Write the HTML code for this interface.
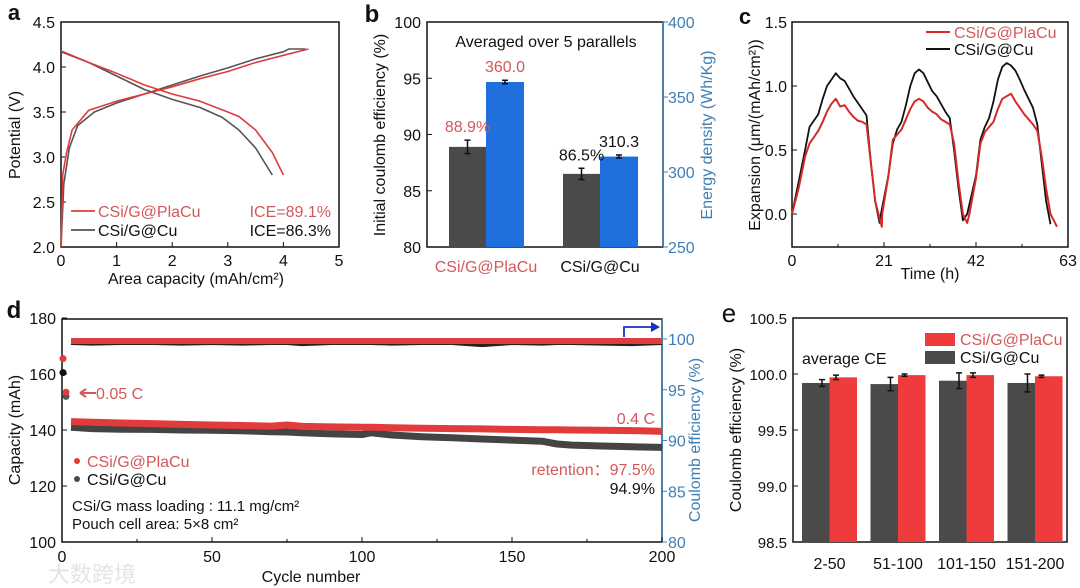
<!DOCTYPE html>
<html><head><meta charset="utf-8"><style>
html,body{margin:0;padding:0;background:#fff;}
svg{display:block;font-family:"Liberation Sans",Arial,sans-serif;}
</style></head><body>
<svg id="fig" width="1080" height="588" viewBox="0 0 1080 588">
<g id="layer"></g>
</svg>
<script>
// ---------- DATA ----------
// Panel a (x: capacity, y: potential)
const aRedChX=[0,0.03,0.1,0.2,0.5,1,1.5,2,2.5,3,3.5,4,4.45];
const aRedChY=[2.0,2.8,3.05,3.3,3.52,3.62,3.7,3.78,3.87,3.95,4.05,4.13,4.2];
const aBlkChX=[0,0.05,0.15,0.3,0.6,1,1.5,2,2.5,3,3.5,4,4.1,4.4];
const aBlkChY=[2.0,2.7,3.1,3.35,3.5,3.6,3.7,3.8,3.9,3.99,4.09,4.17,4.2,4.2];
const aRedDisX=[0,0.5,1,1.5,2,2.5,3,3.2,3.5,3.8,4.0];
const aRedDisY=[4.18,4.05,3.93,3.8,3.7,3.62,3.5,3.45,3.3,3.05,2.8];
const aBlkDisX=[0,0.5,1,1.5,2,2.5,2.9,3.2,3.5,3.8];
const aBlkDisY=[4.17,4.05,3.9,3.75,3.64,3.55,3.44,3.3,3.1,2.8];
const aXTicks=[0,1,2,3,4,5];
const aYTicks=[2.0,2.5,3.0,3.5,4.0,4.5];
// Panel b
const bCats=["CSi/G@PlaCu","CSi/G@Cu"];
const bICE=[88.9,86.5];
const bICEErr=[0.6,0.5];
const bEnergy=[360.0,310.3];
const bEnergyErr=[1.2,1.0];
const bICELabels=["88.9%","86.5%"];
const bEnergyLabels=["360.0","310.3"];
const bYTicks=[80,85,90,95,100];
const bY2Ticks=[250,300,350,400];
// Panel c
const cBlkT=[0,1.5,3,4,5,6,7,8,9,10,11,12,13,14,15,16,17,18,19,20,20.3,22,23,24,25,26,27,28,29,30,31,32,33,34,35,36,37,38,39,40,42,43,44,45,46,47,48,49,50,51,52,53,54,55,56,57,58,59];
const cBlkV=[0,0.25,0.5,0.68,0.73,0.78,0.9,1.0,1.05,1.1,1.06,1.04,0.98,0.92,0.87,0.82,0.77,0.4,0.1,-0.07,0,0.3,0.55,0.66,0.72,0.85,1.0,1.1,1.13,1.1,1.03,0.96,0.92,0.86,0.8,0.75,0.5,0.2,-0.05,0,0.3,0.58,0.68,0.75,0.88,1.05,1.15,1.18,1.16,1.12,1.05,0.97,0.9,0.83,0.7,0.4,0.1,-0.08];
const cRedT=[0,1.5,3,4,5,6,7,8,9,10,11,12,13,14,15,16,17,18,19,20.5,20.6,22,23,24,25,26,27,28,29,30,31,32,33,34,35,36,37,38,39,40,40.5,42,43,44,45,46,47,48,49,50,51,52,53,54,55,56,57,58,59,60.5];
const cRedV=[0,0.2,0.45,0.55,0.6,0.65,0.72,0.8,0.86,0.9,0.84,0.85,0.8,0.76,0.73,0.72,0.7,0.4,0.1,-0.1,0,0.3,0.58,0.62,0.66,0.74,0.82,0.88,0.9,0.88,0.83,0.8,0.78,0.74,0.72,0.7,0.55,0.25,0,-0.07,0,0.28,0.55,0.64,0.68,0.72,0.82,0.9,0.92,0.94,0.88,0.83,0.78,0.74,0.7,0.65,0.45,0.2,0,-0.1];
const cXTicks=[0,21,42,63];
const cYTicks=[0.0,0.5,1.0,1.5];
// Panel d
const dCycles=[3,10,20,30,40,50,60,70,75,80,90,100,103,110,120,130,140,150,160,165,170,180,190,200];
const dRedCap=[143,142.8,142.5,142.3,142,141.8,141.6,141.4,141.8,141.3,141.1,141,141,140.8,140.6,140.5,140.4,140.2,140.1,140.1,140,139.9,139.8,139.5];
const dBlkCap=[141,140.5,140.3,140.2,140,139.9,139.7,139.4,139.3,139,138.6,138.4,139,138.2,137.6,137.2,136.8,136.4,136,135,134.6,134.3,134,133.8];
const dRedCE=[99.8,99.8,99.8,99.8,99.8,99.8,99.8,99.8,99.8,99.8,99.8,99.8,99.8,99.8,99.8,99.8,99.8,99.8,99.8,99.8,99.8,99.8,99.8,99.8];
const dBlkCE=[99.7,99.65,99.7,99.7,99.65,99.7,99.65,99.7,99.7,99.6,99.7,99.7,99.7,99.65,99.7,99.7,99.5,99.7,99.65,99.7,99.7,99.65,99.6,99.7];
const dInitCycles=[1,2];
const dRedInit=[165.5,153.5];
const dBlkInit=[160.5,152];
const dXTicks=[0,50,100,150,200];
const dYTicks=[100,120,140,160,180];
const dY2Ticks=[80,85,90,95,100];
// Panel e
const eCats=["2-50","51-100","101-150","151-200"];
const eBlk=[99.92,99.91,99.94,99.92];
const eBlkErr=[0.03,0.06,0.07,0.08];
const eRed=[99.97,99.99,99.99,99.98];
const eRedErr=[0.02,0.01,0.02,0.01];
const eYTicks=[98.5,99.0,99.5,100.0,100.5];

// ---------- HELPERS ----------
const NS="http://www.w3.org/2000/svg";
const L=document.getElementById('layer');
function mk(tag,attrs){const e=document.createElementNS(NS,tag);for(const k in attrs)e.setAttribute(k,attrs[k]);L.appendChild(e);return e;}
function lin(d0,d1,r0,r1){return v=>r0+(v-d0)*(r1-r0)/(d1-d0);}
function txt(s,x,y,opt){const e=mk('text',{x:x,y:y,'font-size':opt.fs||16,fill:opt.fill||'#111','text-anchor':opt.anchor||'middle'});if(opt.rot)e.setAttribute('transform','rotate(-90 '+x+' '+y+')');if(opt.bold)e.setAttribute('font-weight','bold');e.textContent=s;return e;}
function poly(xs,ys,fx,fy,col,w){let p=xs.map((v,i)=>fx(v).toFixed(1)+','+fy(ys[i]).toFixed(1)).join(' ');return mk('polyline',{points:p,fill:'none',stroke:col,'stroke-width':w,'stroke-linejoin':'round'});}
const RED='#e23b3b',RTXT='#d4585a',DARK='#4a4a4a',BLUE='#1f6fdc',ABLUE='#3f7fb4';

// ---------- PANEL A ----------
{const fx=lin(0,5,61,339),fy=lin(2,4.5,247,22);
let e=mk('rect',{x:61,y:22,width:278,height:225,fill:'none',stroke:'#111','stroke-width':1.5});

aXTicks.forEach(t=>{mk('line',{x1:fx(t),y1:247,x2:fx(t),y2:242,stroke:'#111'});let s=txt(String(t),fx(t),266,{});
});
aYTicks.forEach(t=>{mk('line',{x1:61,y1:fy(t),x2:66,y2:fy(t),stroke:'#111'});let s=txt(t.toFixed(1),55,fy(t)+6,{anchor:'end'});
});
e=poly(aBlkChX,aBlkChY,fx,fy,'#555',1.6);
e=poly(aBlkDisX,aBlkDisY,fx,fy,'#555',1.6);
e=poly(aRedChX,aRedChY,fx,fy,RED,1.6);
e=poly(aRedDisX,aRedDisY,fx,fy,RED,1.6);
e=txt('a',14,20,{fs:22,bold:true,anchor:'middle'});
e=txt('Potential (V)',20,135,{rot:true});
e=txt('Area capacity (mAh/cm²)',196,284,{});
mk('line',{x1:71,y1:211,x2:95,y2:211,stroke:RED,'stroke-width':1.8});
e=txt('CSi/G@PlaCu',98,217,{anchor:'start',fill:RTXT});
mk('line',{x1:71,y1:230,x2:95,y2:230,stroke:'#555','stroke-width':1.8});
e=txt('CSi/G@Cu',98,236,{anchor:'start'});
e=txt('ICE=89.1%',331,217,{anchor:'end',fill:RTXT});
e=txt('ICE=86.3%',331,236,{anchor:'end'});
}

// ---------- PANEL B ----------
{const fy=lin(80,100,247,22),fy2=lin(250,400,247,22);
let e=mk('rect',{x:427,y:22,width:236,height:225,fill:'none',stroke:'#111','stroke-width':1.5});

mk('line',{x1:663,y1:22,x2:663,y2:247,stroke:ABLUE,'stroke-width':1.5});
bYTicks.forEach(t=>{mk('line',{x1:427,y1:fy(t),x2:432,y2:fy(t),stroke:'#111'});let s=txt(String(t),421,fy(t)+6,{anchor:'end'});
});
bY2Ticks.forEach(t=>{mk('line',{x1:663,y1:fy2(t),x2:668,y2:fy2(t),stroke:ABLUE});let s=txt(String(t),668,fy2(t)+6,{anchor:'start',fill:ABLUE});
});
const gx=[449,563];
bCats.forEach((c,i)=>{
 let r=mk('rect',{x:gx[i],y:fy(bICE[i]),width:37,height:247-fy(bICE[i]),fill:DARK});
 
 let cx=gx[i]+18.5;
 mk('path',{d:`M${cx},${fy(bICE[i]+bICEErr[i])}V${fy(bICE[i]-bICEErr[i])}M${cx-3},${fy(bICE[i]+bICEErr[i])}h6M${cx-3},${fy(bICE[i]-bICEErr[i])}h6`,stroke:'#111','stroke-width':1.5,fill:'none'});
 r=mk('rect',{x:gx[i]+37,y:fy2(bEnergy[i]),width:38,height:247-fy2(bEnergy[i]),fill:BLUE});
 
 let bx=gx[i]+56;
 mk('path',{d:`M${bx},${fy2(bEnergy[i]+bEnergyErr[i])}V${fy2(bEnergy[i]-bEnergyErr[i])}M${bx-3},${fy2(bEnergy[i]+bEnergyErr[i])}h6M${bx-3},${fy2(bEnergy[i]-bEnergyErr[i])}h6`,stroke:'#111','stroke-width':1.5,fill:'none'});
 let col=i===0?RTXT:'#111';
 let t=txt(bICELabels[i],cx,fy(bICE[i]+bICEErr[i])-8,{fill:col});
 t=txt(bEnergyLabels[i],bx,fy2(bEnergy[i]+bEnergyErr[i])-8,{fill:col});
 t=txt(c,gx[i]+37,272,{fill:col});
});
e=txt('b',372,22,{fs:24,bold:true});
e=txt('Averaged over 5  parallels',546,47,{});
e=txt('Initial coulomb efficiency (%)',385,135,{rot:true});
e=txt('Energy density  (Wh/Kg)',712,135,{rot:true,fill:ABLUE});
}

// ---------- PANEL C ----------
{const fx=lin(0,63,792,1068),fy=lin(0,1.5,214,22);
let e=mk('rect',{x:792,y:22,width:276,height:225,fill:'none',stroke:'#111','stroke-width':1.5});

cXTicks.forEach(t=>{mk('line',{x1:fx(t),y1:247,x2:fx(t),y2:242,stroke:'#111'});let s=txt(String(t),fx(t),266,{});
});
[10.5,31.5,52.5].forEach(t=>mk('line',{x1:fx(t),y1:247,x2:fx(t),y2:244,stroke:'#111'}));
cYTicks.forEach(t=>{mk('line',{x1:792,y1:fy(t),x2:797,y2:fy(t),stroke:'#111'});let s=txt(t.toFixed(1),787,fy(t)+6,{anchor:'end'});
});
e=poly(cBlkT,cBlkV,fx,fy,'#111',1.8);
e=poly(cRedT,cRedV,fx,fy,'#d42a2a',2);
e=txt('c',745,24,{fs:22,bold:true});
e=txt('Expansion (μm/(mAh/cm²))',760,135,{rot:true});
e=txt('Time (h)',930,279,{});
mk('line',{x1:926,y1:32,x2:950,y2:32,stroke:'#d42a2a','stroke-width':2});
e=txt('CSi/G@PlaCu',954,38,{anchor:'start',fill:RTXT});
mk('line',{x1:926,y1:49,x2:950,y2:49,stroke:'#111','stroke-width':2});
e=txt('CSi/G@Cu',954,55,{anchor:'start'});
}

// ---------- PANEL D ----------
{const fx=lin(0,200,62,662),fy=lin(100,180,542,318),fy2=lin(80,100,542,339);
let e=mk('rect',{x:62,y:319,width:600,height:223,fill:'none',stroke:'#111','stroke-width':1.5});

mk('line',{x1:662,y1:319,x2:662,y2:542,stroke:ABLUE,'stroke-width':1.5});
dXTicks.forEach(t=>{mk('line',{x1:fx(t),y1:542,x2:fx(t),y2:537,stroke:'#111'});let s=txt(String(t),fx(t),562,{});
});
[25,75,125,175].forEach(t=>mk('line',{x1:fx(t),y1:542,x2:fx(t),y2:539,stroke:'#111'}));
dYTicks.forEach(t=>{mk('line',{x1:62,y1:fy(t),x2:67,y2:fy(t),stroke:'#111'});let s=txt(String(t),56,fy(t)+6,{anchor:'end'});
});
dY2Ticks.forEach(t=>{mk('line',{x1:662,y1:fy2(t),x2:667,y2:fy2(t),stroke:ABLUE});let s=txt(String(t),668,fy2(t)+6,{anchor:'start',fill:ABLUE});
});
e=poly(dCycles,dBlkCE,fx,fy2,'#222',6);
e=poly(dCycles,dRedCE,fx,fy2,RED,6);
e=poly(dCycles,dBlkCap,fx,fy,'#444',7);
e=poly(dCycles,dRedCap,fx,fy,RED,7);
dInitCycles.forEach((c,i)=>{let p=mk('circle',{cx:fx(c)-2,cy:fy(dBlkInit[i]),r:3.5,fill:i===0?'#111':'#555'});

p=mk('circle',{cx:fx(c)-2,cy:fy(dRedInit[i]),r:3.5,fill:RED});
});
e=txt('d',14,318,{fs:24,bold:true});
e=txt('Capacity (mAh)',20,430,{rot:true});
e=txt('Coulomb efficiency (%)',700,440,{rot:true,fill:ABLUE});
e=txt('Cycle number',311,582,{});
mk('path',{d:'M80,393h16M80,393l6,-4M80,393l6,4',stroke:RTXT,'stroke-width':2,fill:'none'});
e=txt('0.05 C',96,399,{anchor:'start',fill:RTXT});
e=txt('0.4 C',655,424,{anchor:'end',fill:RTXT});
e=txt('retention：97.5%',655,475,{anchor:'end',fill:RTXT});
e=txt('94.9%',655,494,{anchor:'end'});
mk('path',{d:'M624,337V327h32',stroke:'#1a2fc0','stroke-width':1.8,fill:'none'});
mk('path',{d:'M660,327l-9,-5v10z',fill:'#1a2fc0'});
e=mk('circle',{cx:77,cy:461,r:3,fill:RED});
e=txt('CSi/G@PlaCu',87,467,{anchor:'start',fill:RTXT});
e=mk('circle',{cx:77,cy:479,r:3,fill:DARK});
e=txt('CSi/G@Cu',87,485,{anchor:'start'});
e=txt('CSi/G mass loading : 11.1 mg/cm²',72,511,{anchor:'start',fs:15});
e=txt('Pouch cell area: 5×8 cm²',72,529,{anchor:'start',fs:15});
e=txt('大数跨境',48,582,{anchor:'start',fs:22,fill:'#e4e4e4'});
}

// ---------- PANEL E ----------
{const fy=lin(98.5,100.5,542,318);
let e=mk('rect',{x:793,y:318,width:274,height:224,fill:'none',stroke:'#111','stroke-width':1.5});

eYTicks.forEach(t=>{mk('line',{x1:793,y1:fy(t),x2:798,y2:fy(t),stroke:'#111'});let s=txt(t.toFixed(1),787,fy(t)+6,{anchor:'end',fs:15});
});
eCats.forEach((c,i)=>{
 const x0=802+i*68.5;
 let r=mk('rect',{x:x0,y:fy(eBlk[i]),width:27.5,height:542-fy(eBlk[i]),fill:DARK});
 
 r=mk('rect',{x:x0+27.5,y:fy(eRed[i]),width:27.5,height:542-fy(eRed[i]),fill:'#ef3b3b'});
 
 let cx=x0+20,rx=x0+34;
 mk('path',{d:`M${cx},${fy(eBlk[i]+eBlkErr[i])}V${fy(eBlk[i]-eBlkErr[i])}M${cx-3},${fy(eBlk[i]+eBlkErr[i])}h6M${cx-3},${fy(eBlk[i]-eBlkErr[i])}h6`,stroke:'#111','stroke-width':1.5,fill:'none'});
 mk('path',{d:`M${rx},${fy(eRed[i]+eRedErr[i])}V${fy(eRed[i]-eRedErr[i])}M${rx-3},${fy(eRed[i]+eRedErr[i])}h6M${rx-3},${fy(eRed[i]-eRedErr[i])}h6`,stroke:'#111','stroke-width':1.5,fill:'none'});
 let t=txt(c,x0+27.5,569,{});
});
e=txt('e',729,322,{fs:26,bold:false});
e=txt('Coulomb efficiency (%)',741,430,{rot:true});
e=txt('average CE',802,364,{anchor:'start'});
e=mk('rect',{x:925,y:333,width:30,height:13,fill:'#ef3b3b'});
e=txt('CSi/G@PlaCu',960,345,{anchor:'start',fill:RTXT});
e=mk('rect',{x:925,y:351,width:30,height:13,fill:DARK});
e=txt('CSi/G@Cu',960,363,{anchor:'start'});
}
</script>
</body></html>
